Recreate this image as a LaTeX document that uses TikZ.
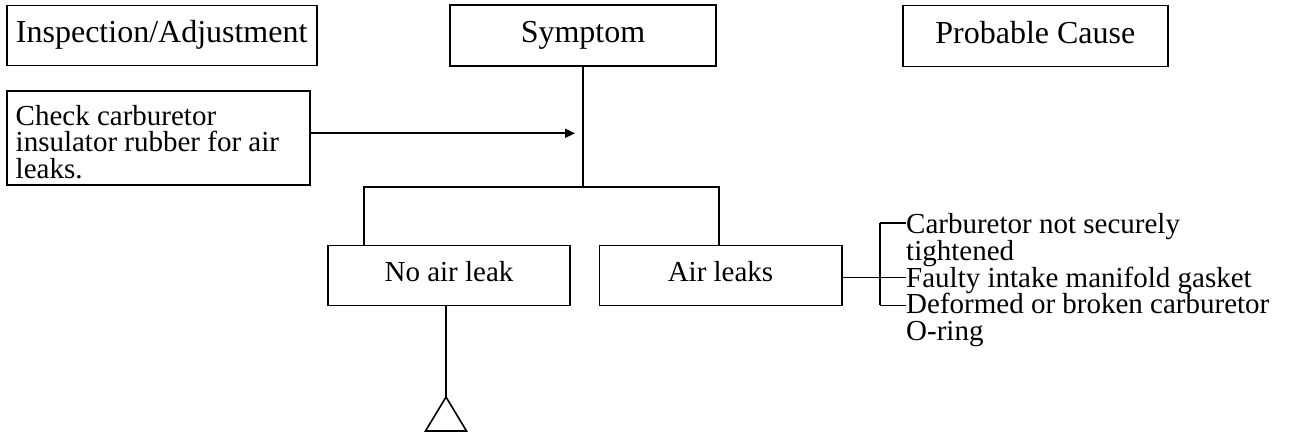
\documentclass[tikz,border=0pt]{standalone}
\usepackage{fontspec}
\setmainfont{Liberation Serif}
\usetikzlibrary{arrows.meta}
\tikzset{
  lw/.style={line width=1.6pt},
  box/.style={draw, lw, inner sep=0pt, outer sep=0pt, anchor=north west,
    font=\fontsize{29}{26.5}\selectfont, text height=19pt, text depth=7pt},
  hbox/.style={box, font=\fontsize{32}{32}\selectfont, text height=22pt, text depth=7.4pt},
  mbox/.style={draw, lw, outer sep=0pt, anchor=north west, align=flush left,
    inner xsep=9pt, inner ysep=0pt, font=\fontsize{29}{26.5}\selectfont},
  cause/.style={inner sep=0pt, anchor=north west, align=flush left,
    font=\fontsize{29}{26.5}\selectfont},
  conn/.style={lw},
}
\begin{document}
\begin{tikzpicture}[x=1pt,y=-1pt]
\useasboundingbox (0,0) rectangle (1289,435);
% headers
\node[hbox, minimum width=310pt, minimum height=60pt] (ins) at (6.7,5.7) {Inspection/Adjustment};
\node[hbox, minimum width=266pt, minimum height=61pt] (sym) at (450,5.2) {Symptom};
\node[hbox, minimum width=265.3pt, minimum height=61pt] (prob) at (902.7,5.7) {Probable Cause};
% inspection step
\node[mbox, text width=285pt, minimum height=94pt] (check) at (6.7,91) {\rule{0pt}{28pt}Check carburetor\\insulator rubber for air\\leaks.};
% symptoms
\node[box, minimum width=242pt, minimum height=60pt] (noleak) at (328,245.5) {No air leak};
\node[box, minimum width=242.4pt, minimum height=60pt] (leak) at (599.3,245.5) {Air leaks};
% causes
\node[cause] (c1) at (906,213.5) {Carburetor not securely\\tightened};
\node[cause] (c2) at (906,266.5) {Faulty intake manifold gasket};
\node[cause] (c3) at (906,293) {Deformed or broken carburetor\\O-ring};
% coordinates
\coordinate (arrowend) at (575,133.3);
\coordinate (jC) at (583,187);
\coordinate (jL) at (364,187);
\coordinate (jR) at (719,187);
\coordinate (b1) at (880,223.3);
\coordinate (b2) at (880,277.7);
\coordinate (b3) at (880,305.5);
\coordinate (apex) at (446,397);
% connectors
\draw[conn, -{Triangle[length=10pt,width=9pt]}] (check.east |- arrowend) -- (arrowend);
\draw[conn] (sym.south -| jC) -- (jC);
\draw[conn] (noleak.north -| jL) -- (jL) -- (jR) -- (leak.north -| jR);
\draw[conn] (leak.east |- b2) -- (b2);
\draw[conn] (b1) -- (b3);
\draw[conn] (b1) -- (b1 -| c1.west);
\draw[conn] (b2) -- (b2 -| c2.west);
\draw[conn] (b3) -- (b3 -| c3.west);
\draw[conn] (noleak.south -| apex) -- (apex);
\draw[conn, line join=miter] (apex) -- ++(-20.5,34) -- ++(41,0) -- cycle;
\end{tikzpicture}
\end{document}
